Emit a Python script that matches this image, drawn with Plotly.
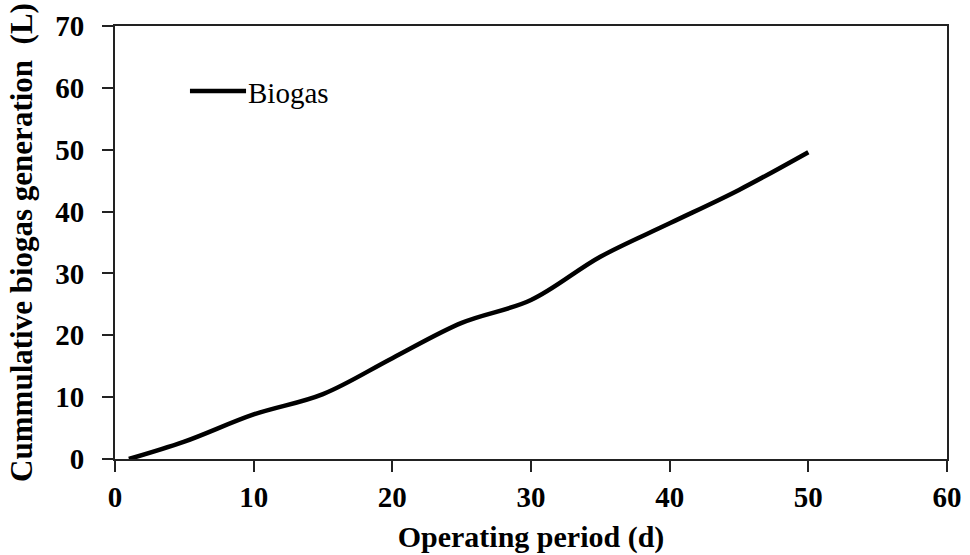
import plotly.graph_objects as go

days = [1, 5, 10, 15, 20, 25, 30, 35, 40, 45, 50]
biogas = [0.0, 2.8, 7.2, 10.5, 16.3, 22.0, 25.7, 32.7, 38.1, 43.5, 49.6]
series_name = "Biogas"
x_title = "Operating period (d)"
y_title = "Cummulative biogas generation  (L)"

FONT = "Liberation Serif, Times New Roman, serif"

fig = go.Figure()
fig.add_trace(go.Scatter(
    x=days, y=biogas, mode="lines", name=series_name,
    line=dict(color="black", width=4.5, shape="spline", smoothing=1.0),
    showlegend=False,
))

# legend drawn manually to match the long sample line
fig.add_shape(type="line", xref="paper", yref="paper",
              x0=0.0901, x1=0.1575, y0=0.850, y1=0.850,
              line=dict(color="black", width=4.5))
fig.add_annotation(xref="paper", yref="paper", x=0.158, y=0.846,
                   text=series_name, showarrow=False, xanchor="left", yanchor="middle",
                   font=dict(family=FONT, size=29, color="black"))

axis_common = dict(
    showgrid=False, zeroline=False, showline=True, mirror=True, automargin=False,
    linecolor="#222", linewidth=2, ticks="outside", ticklen=11, tickwidth=2,
    tickcolor="#222", dtick=10,
    tickfont=dict(family=FONT, size=29, color="black", weight="bold"),
)

fig.update_xaxes(range=[0, 60], title=dict(text=x_title, standoff=14,
                 font=dict(family=FONT, size=30, color="black", weight="bold")),
                 **axis_common)
fig.update_yaxes(range=[0, 70], ticklabelstandoff=12,
                 title=dict(text=y_title, standoff=13,
                 font=dict(family=FONT, size=31, color="black", weight="bold")),
                 **axis_common)

fig.update_layout(
    width=970, height=555,
    margin=dict(l=115, r=23, t=26, b=96),
    paper_bgcolor="white", plot_bgcolor="white",
)

fig.write_html("out.html")
